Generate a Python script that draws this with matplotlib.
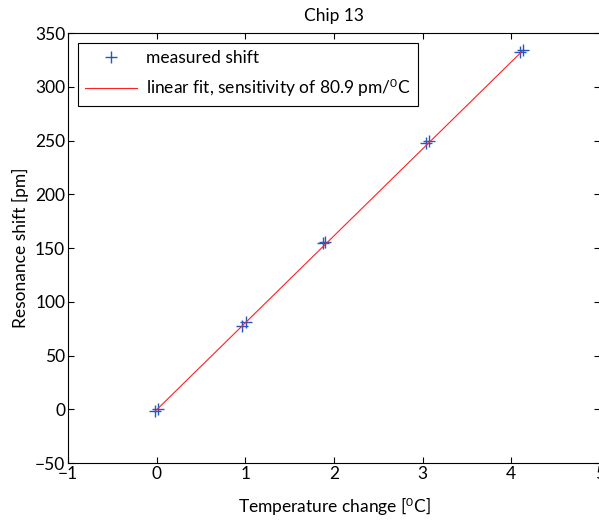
import matplotlib
matplotlib.use("Agg")
import matplotlib.pyplot as plt
import numpy as np

plt.rcParams['font.family'] = ['Lato', 'DejaVu Sans']
plt.rcParams['mathtext.fontset'] = 'custom'
plt.rcParams['mathtext.rm'] = 'Lato'

temp_change = [-0.02, 0.01, 0.96, 1.01, 1.88, 1.90, 3.04, 3.07, 4.10, 4.13]
res_shift = [-2.0, 0.0, 77.8, 81.0, 154.5, 156.0, 247.7, 249.8, 332.4, 333.9]
sensitivity = 80.9
intercept = -0.5
fit_x = [0.0, 4.12]

title = "Chip 13"
xlabel = "Temperature change [$\\mathrm{^0}$C]"
ylabel = "Resonance shift [pm]"
xticks = [-1, 0, 1, 2, 3, 4, 5]
yticks = [-50, 0, 50, 100, 150, 200, 250, 300, 350]

fig = plt.figure(figsize=(5.99, 5.21), dpi=100)
ax = fig.add_axes([0.1135, 0.1113, 0.888, 0.8253])

ax.plot(temp_change, res_shift, linestyle='none', marker='+', markersize=9,
        markeredgewidth=1.0, color='#2656c0', label='measured shift')
fx = np.array(fit_x)
ax.plot(fx, sensitivity * fx + intercept, color='#ff2020', linewidth=0.8,
        label='linear fit, sensitivity of 80.9 pm/$\\mathrm{^0}$C')

ax.set_xlim(-1, 5)
ax.set_ylim(-50, 350)
ax.set_xticks(xticks)
ax.set_yticks(yticks)
ax.set_yticklabels([str(v).replace('-', '\u2212') for v in yticks])
ax.set_xticklabels([str(v).replace('-', '\u2212') for v in xticks])
ax.tick_params(direction='in', top=True, right=True, labelsize=12.5, length=4, pad=2)
ax.set_title(title, fontsize=12.5, pad=9)
ax.set_xlabel(xlabel, fontsize=12.5, labelpad=10)
ax.set_ylabel(ylabel, fontsize=12.5, labelpad=4)

leg = ax.legend(loc='upper left', fontsize=12.5, frameon=True, fancybox=False,
                edgecolor='black', framealpha=1, handlelength=3.0,
                handletextpad=0.5,
                bbox_to_anchor=(0.013, 0.985), borderaxespad=0.2,
                labelspacing=0.6)
leg.get_frame().set_linewidth(0.8)

fig.savefig('out.png', dpi=100)
